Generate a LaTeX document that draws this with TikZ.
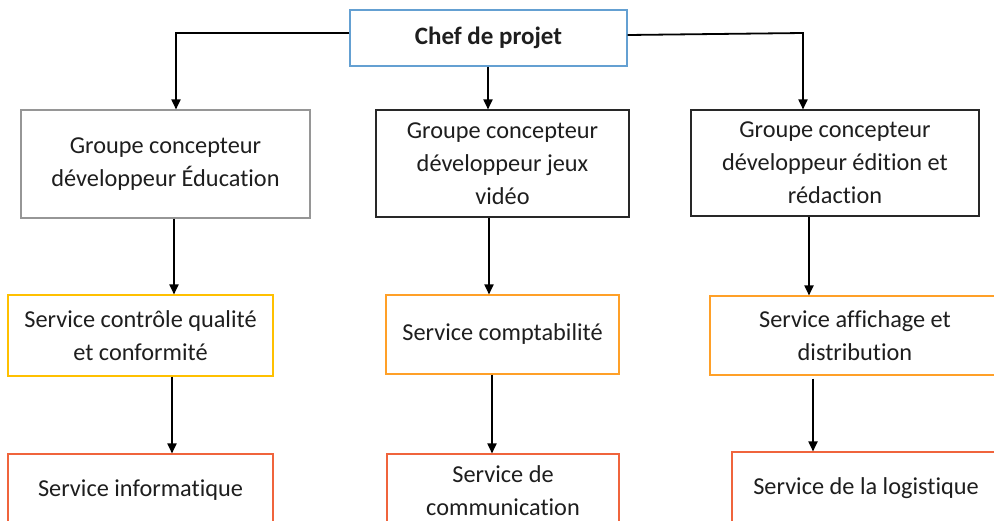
\documentclass[tikz,border=0pt]{standalone}
\usepackage{fontspec}
\setmainfont{Carlito}[Ligatures={NoCommon}]
\usetikzlibrary{arrows.meta}
\definecolor{chefc}{RGB}{100,160,210}
\definecolor{grayc}{RGB}{150,150,150}
\definecolor{darkc}{RGB}{40,40,40}
\definecolor{yelc}{RGB}{255,192,0}
\definecolor{orac}{RGB}{255,160,40}
\definecolor{redc}{RGB}{240,100,60}
\definecolor{txt}{RGB}{30,30,30}
\tikzset{
  boxstyle/.style={draw, line width=1.1pt, align=center, text=txt, inner sep=0pt,
    font=\fontsize{24.3pt}{33pt}\selectfont},
  arr/.style={line width=1.8pt, black, -{Triangle[width=9pt,length=10pt]}}
}
\begin{document}
\begin{tikzpicture}[x=1pt,y=-1pt]
\useasboundingbox (0,0) rectangle (994,520);
\clip (0,0) rectangle (994,520);
\fill[white] (0,0) rectangle (994,520);
% nodes
\node[boxstyle, draw=chefc, minimum width=277pt, minimum height=56pt, font=\fontsize{25pt}{33pt}\bfseries\selectfont] (chef) at (488.5,38) {Chef de projet};
\node[boxstyle, draw=grayc, minimum width=289pt, minimum height=108pt] (g1) at (165.5,164) {Groupe concepteur\\développeur Éducation};
\node[boxstyle, draw=darkc, minimum width=253pt, minimum height=107pt] (g2) at (502.5,163.5) {Groupe concepteur\\développeur jeux\\vidéo};
\node[boxstyle, draw=darkc, minimum width=288pt, minimum height=106pt] (g3) at (835,163) {Groupe concepteur\\développeur édition et\\rédaction};
\node[boxstyle, draw=yelc, minimum width=265pt, minimum height=81pt] (s1) at (140.5,335.5) {Service contrôle qualité\\et conformité};
\node[boxstyle, draw=orac, minimum width=233pt, minimum height=79pt] (s2) at (502.5,334.5) {Service comptabilité};
\node[boxstyle, draw=orac, minimum width=290pt, minimum height=79pt] (s3) at (855,335.5) {Service affichage et\\distribution};
\node[boxstyle, draw=redc, minimum width=265pt, minimum height=72pt] (s4) at (140.5,490) {Service informatique};
\node[boxstyle, draw=redc, minimum width=232pt, minimum height=73pt] (s5) at (503,490.5) {Service de\\communication};
\node[boxstyle, draw=redc, minimum width=268pt, minimum height=72pt] (s6) at (866,488) {Service de la logistique};
% connectors from chef
\coordinate (lc) at (176,33);
\coordinate (rc) at (803,33);
\draw[arr] (chef.west |- 0,33) -- (lc) -- (g1.north -| lc);
\draw[arr] (chef.south -| 488,0) -- (g2.north -| 488,0);
\draw[arr] (chef.east |- 0,35) -- (rc) -- (g3.north -| rc);
% second row
\draw[arr] (g1.south -| 174,0) -- (s1.north -| 174,0);
\draw[arr] (g2.south -| 489,0) -- (s2.north -| 489,0);
\draw[arr] (g3.south -| 809,0) -- (s3.north -| 809,0);
% third row
\draw[arr] (s1.south -| 172,0) -- (s4.north -| 172,0);
\draw[arr] (s2.south -| 492,0) -- (s5.north -| 492,0);
\draw[arr] ([yshift=-3pt]s3.south -| 813,0) -- (s6.north -| 813,0);
\end{tikzpicture}
\end{document}
